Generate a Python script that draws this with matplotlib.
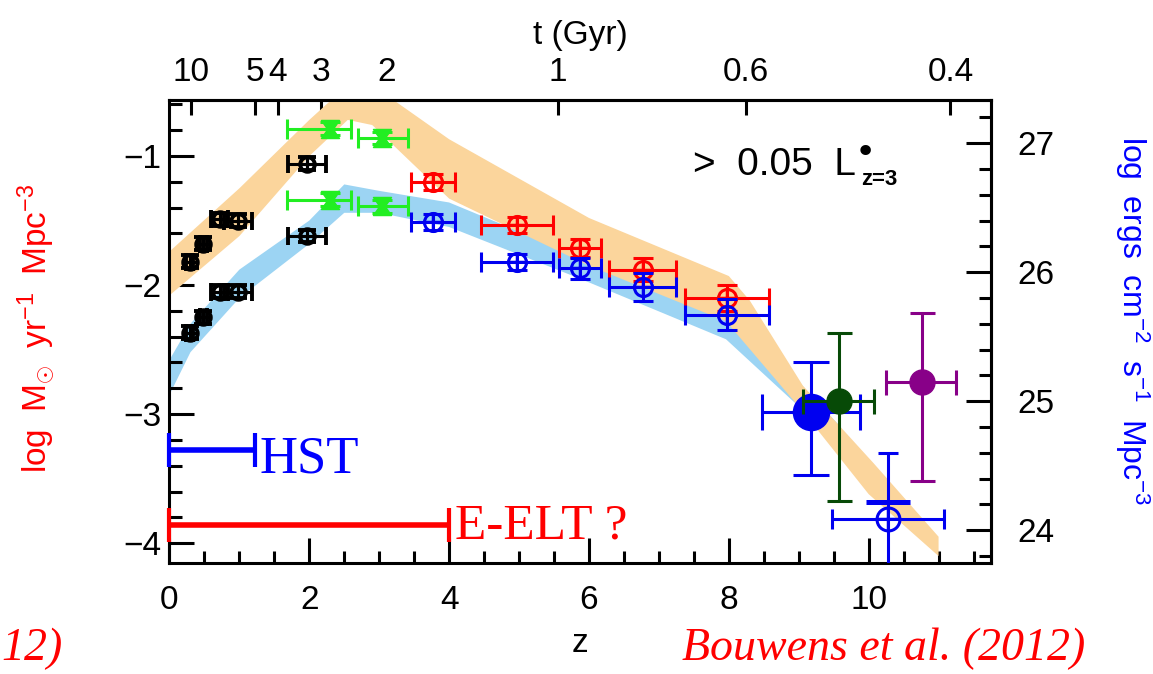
import numpy as np
import matplotlib
matplotlib.use('Agg')
import matplotlib.pyplot as plt
from matplotlib.path import Path
from matplotlib.ticker import MultipleLocator, FixedLocator

plt.rcParams['font.family'] = ['Liberation Sans', 'DejaVu Sans']
plt.rcParams['mathtext.fontset'] = 'custom'
plt.rcParams['mathtext.rm'] = 'Liberation Sans'
plt.rcParams['mathtext.it'] = 'Liberation Sans:italic'
plt.rcParams['mathtext.bf'] = 'Liberation Sans:bold'

OFFSET = 27.9  # log ergs cm^-2 s^-1 Mpc^-3 = log SFR + OFFSET

# ---------------- data ----------------
# SFR density band (left axis units)
sfr_up_z = [0.0, 1.0, 2.0, 2.55, 2.9, 4.0, 6.0, 8.0, 8.3, 9.06, 10.07, 11.0]
sfr_up_y = [-1.74, -1.25, -0.72, -0.45, -0.45, -0.87, -1.48, -1.93, -2.12, -2.78, -3.38, -3.95]
sfr_lo_z = [0.0, 1.0, 2.0, 2.55, 2.9, 4.0, 6.0, 7.96, 9.06, 10.0, 11.0]
sfr_lo_y = [-2.08, -1.62, -1.0, -0.72, -0.76, -1.33, -1.85, -2.28, -2.98, -3.62, -4.10]

# UV luminosity density band (right axis units)
lum_up_z = [0.0, 0.3, 1.0, 2.0, 2.5, 3.0, 4.0, 5.87, 8.0, 9.0, 9.6]
lum_up_y = [25.32, 25.60, 26.02, 26.40, 26.68, 26.63, 26.54, 26.12, 25.72, 25.15, 24.80]
lum_lo_z = [0.0, 0.3, 1.0, 2.0, 2.5, 3.0, 4.0, 5.87, 7.96, 9.06, 9.6]
lum_lo_y = [25.05, 25.38, 25.80, 26.22, 26.46, 26.46, 26.35, 25.95, 25.48, 24.93, 24.60]

# black points (low z): SFR (left) and luminosity (right)
blk_z = [0.29, 0.48, 0.72, 0.98, 1.97]
blk_xerr = [0.05, 0.05, 0.12, 0.20, 0.27]
blk_sfr = [-1.82, -1.68, -1.49, -1.50, -1.06]
blk_lum = [25.53, 25.65, 25.85, 25.85, 26.28]
blk_yerr = [0.05, 0.05, 0.05, 0.05, 0.05]

# green points
grn_z = [2.29, 3.04]
grn_xerr_lo = [0.61, 0.35]
grn_xerr_hi = [0.31, 0.37]
grn_sfr = [-0.79, -0.86]
grn_lum = [26.56, 26.51]
grn_yerr = [0.05, 0.05]

# red (SFR) and blue (luminosity) points
rb_z = [3.77, 4.97, 5.87, 6.77, 7.98]
rb_xerr = [0.31, 0.51, 0.30, 0.48, 0.60]
red_sfr = [-1.20, -1.535, -1.71, -1.88, -2.10]
red_yerr = [0.06, 0.06, 0.07, 0.09, 0.10]
blu_lum = [26.39, 26.08, 26.03, 25.885, 25.67]
blu_yerr = [0.06, 0.06, 0.08, 0.11, 0.12]

# high-z points
bigb_z, bigb_lum = 9.18, 24.92
bigb_xerr = [[0.71], [0.69]]
bigb_yerr = [[0.49], [0.38]]
dgrn_z, dgrn_sfr = 9.57, -2.90
dgrn_xerr = [[0.51], [0.51]]
dgrn_yerr = [[0.77], [0.53]]
purp_z, purp_sfr = 10.77, -2.75
purp_xerr = [[0.52], [0.48]]
purp_yerr = [[0.77], [0.53]]
ob_z, ob_lum = 10.28, 24.09
ob_xerr = [[0.81], [0.80]]
ob_yerr = [[1.0], [0.51]]
ob_bar_lum = 24.22

# telescope reach
hst_z = [0.0, 1.22]
hst_y = -3.28
elt_z = [0.0, 4.0]
elt_y = -3.86

# axis ticks
left_major = [-4, -3, -2, -1]
right_major = [24, 25, 26, 27]
t_z = [0.31, 1.22, 1.55, 2.17, 3.10, 5.56, 8.25, 11.17]
t_labels = ['10', '5', '4', '3', '2', '1', '0.6', '0.4']

# ---------------- colours ----------------
C_OR = '#FBD59C'
C_LB = '#9CD4F3'
C_RED = '#FF0000'
C_BLUE = '#0000F0'
C_GRN = '#22EE22'
C_DGRN = '#074A07'
C_PURP = '#880088'

fig = plt.figure(figsize=(11.53, 6.74), dpi=100)
ax = fig.add_axes([0.1470, 0.1654, 0.7125, 0.6862])
ax.set_xlim(0, 11.75)
ax.set_ylim(-4.15, -0.566)

def L(v):
    return np.asarray(v) - OFFSET

# bands
ax.fill(np.r_[lum_up_z, lum_lo_z[::-1]], np.r_[L(lum_up_y), L(lum_lo_y)[::-1]],
        color=C_LB, lw=0, zorder=1)
ax.fill(np.r_[sfr_up_z, sfr_lo_z[::-1]], np.r_[sfr_up_y, sfr_lo_y[::-1]],
        color=C_OR, lw=0, zorder=2)

# HST / E-ELT
ax.errorbar([np.mean(hst_z)], [hst_y], xerr=[[np.diff(hst_z)[0] / 2]], fmt='none',
            ecolor='blue', elinewidth=4, capsize=12, capthick=3, zorder=3, clip_on=False)
ax.errorbar([np.mean(elt_z)], [elt_y], xerr=[[np.diff(elt_z)[0] / 2]], fmt='none',
            ecolor='red', elinewidth=4, capsize=12, capthick=3, zorder=3, clip_on=False)
ax.text(1.29, -3.455, 'HST', family='Liberation Serif', fontsize=38, color='blue',
        va='baseline', ha='left', zorder=4)
ax.text(4.08, -3.96, 'E-ELT ?', family='Liberation Serif', fontsize=37, color='red',
        va='baseline', ha='left', zorder=4)

LW = 2.2

def cross_points(x, y, xerr, yerr, color, ms, cap, z=5, lw=LW):
    ax.errorbar(x, y, xerr=xerr, yerr=yerr, fmt='o', mfc='none', mec=color, mew=lw,
                ms=ms, ecolor=color, elinewidth=LW, capsize=cap, capthick=LW, zorder=z)
    ax.plot(x, y, '+', color=color, ms=ms, mew=lw * 0.8, zorder=z + 0.1, ls='none')

# black
cross_points(blk_z, blk_sfr, blk_xerr, blk_yerr, 'black', 10.5, 6.5, lw=2.8)
cross_points(blk_z, L(blk_lum), blk_xerr, blk_yerr, 'black', 10.5, 6.5, lw=2.8)

# green hourglass
hg = Path([(-1, 1), (1, 1), (0.3, 0), (1, -1), (-1, -1), (-0.3, 0), (-1, 1)],
          [Path.MOVETO] + [Path.LINETO] * 5 + [Path.CLOSEPOLY])
for yy in (grn_sfr, L(grn_lum)):
    ax.errorbar(grn_z, yy, xerr=[grn_xerr_lo, grn_xerr_hi], yerr=grn_yerr, fmt='none',
                ecolor=C_GRN, elinewidth=LW, capsize=7, capthick=LW, zorder=5)
    ax.plot(grn_z, yy, ls='none', marker=hg, ms=13, color=C_GRN, zorder=5.2)

# red then blue
cross_points(rb_z, red_sfr, rb_xerr, red_yerr, C_RED, 13, 7)
cross_points(rb_z, L(blu_lum), rb_xerr, blu_yerr, C_BLUE, 13, 7, z=6)

# high-z
ax.errorbar([bigb_z], L([bigb_lum]), xerr=bigb_xerr, yerr=bigb_yerr, fmt='o', ms=26,
            color=C_BLUE, elinewidth=LW, capsize=13, capthick=LW, zorder=7)
ax.errorbar([dgrn_z], [dgrn_sfr], xerr=dgrn_xerr, yerr=dgrn_yerr, fmt='o', ms=18,
            color=C_DGRN, elinewidth=LW, capsize=9, capthick=LW, zorder=8)
ax.errorbar([purp_z], [purp_sfr], xerr=purp_xerr, yerr=purp_yerr, fmt='o', ms=18,
            color=C_PURP, elinewidth=LW, capsize=9, capthick=LW, zorder=8)
ax.errorbar([ob_z], L([ob_lum]), xerr=ob_xerr, yerr=ob_yerr, fmt='o', mfc='none',
            mec=C_BLUE, mew=LW, ms=16.5, ecolor=C_BLUE, elinewidth=LW, capsize=7.5,
            capthick=LW, zorder=8)
ax.plot([ob_z], L([ob_lum]), '+', color=C_BLUE, ms=16.5, mew=LW * 0.8, zorder=8.1)
ax.plot([ob_z], L([ob_bar_lum]), '_', color=C_BLUE, ms=31, mew=3.6, zorder=8.1)

# luminosity-limit annotation
ax.text(7.49, -1.147, '>  0.05  L', fontsize=28, color='black',
        va='baseline', ha='left', zorder=9)
ax.text(9.95, -0.977, '\u2022', fontsize=26, color='black', family='DejaVu Sans',
        va='center', ha='center', zorder=9)
ax.text(9.89, -1.225, 'z=3', fontsize=16, fontweight='bold', color='black',
        va='baseline', ha='left', zorder=9)

# axes styling
for sp in ax.spines.values():
    sp.set_linewidth(2.2)
ax.xaxis.set_major_locator(FixedLocator(np.arange(0, 11.75, 2)))
ax.xaxis.set_minor_locator(FixedLocator(np.arange(0, 11.75, 0.5)))
ax.yaxis.set_major_locator(FixedLocator(left_major))
ax.yaxis.set_minor_locator(FixedLocator(np.round(np.arange(-4.0, -0.59, 0.2), 2)))
ax.tick_params(which='both', direction='in', width=2.2, labelsize=24)
ax.tick_params(which='major', length=18)
ax.tick_params(which='minor', length=9)
ax.tick_params(axis='x', pad=16)
ax.tick_params(axis='y', pad=6)
ax.set_xlabel('z', fontsize=24)
ax.xaxis.set_label_coords(0.5, -0.142)
ax.set_ylabel(r'log$\;$ M$_{\odot}$ $\;$yr$^{-1}$ $\;$Mpc$^{-3}$', fontsize=24, color='red',
              va='center', ha='center')
ax.yaxis.set_label_coords(-0.1625, 0.507)

secy = ax.secondary_yaxis('right', functions=(lambda y: y + OFFSET, lambda y: y - OFFSET))
secy.yaxis.set_major_locator(FixedLocator(right_major))
secy.yaxis.set_minor_locator(FixedLocator(np.round(np.arange(23.8, 27.35, 0.2), 2)))
secy.tick_params(which='both', direction='in', width=2.2, labelsize=24, pad=19)
secy.tick_params(which='major', length=18)
secy.tick_params(which='minor', length=9)
secy.spines['right'].set_linewidth(2.2)
secy.set_ylabel(r'log$\;$ ergs$\;$ cm$^{-2}$ $\;$s$^{-1}$ $\;$Mpc$^{-3}$', fontsize=23,
                color='blue', rotation=-90, va='center', ha='center')
secy.yaxis.set_label_coords(1.1715, 0.522, transform=ax.transAxes)

secx = ax.secondary_xaxis('top')
secx.set_xticks(t_z, labels=t_labels)
secx.xaxis.set_minor_locator(plt.NullLocator())
secx.tick_params(direction='in', width=2.2, length=11, labelsize=24, pad=9)
secx.spines['top'].set_linewidth(2.2)
secx.set_xlabel('t (Gyr)', fontsize=24, va='center')
secx.xaxis.set_label_coords(0.5, 1.140, transform=ax.transAxes)

fig.text(0.5912, 0.0205, 'Bouwens et al. (2012)', family='Liberation Serif', style='italic',
         fontsize=33, color='red', va='baseline', ha='left')
fig.text(0.0010, 0.0205, '12)', family='Liberation Serif', style='italic',
         fontsize=33, color='red', va='baseline', ha='left')

fig.savefig('out.png', dpi=100)
